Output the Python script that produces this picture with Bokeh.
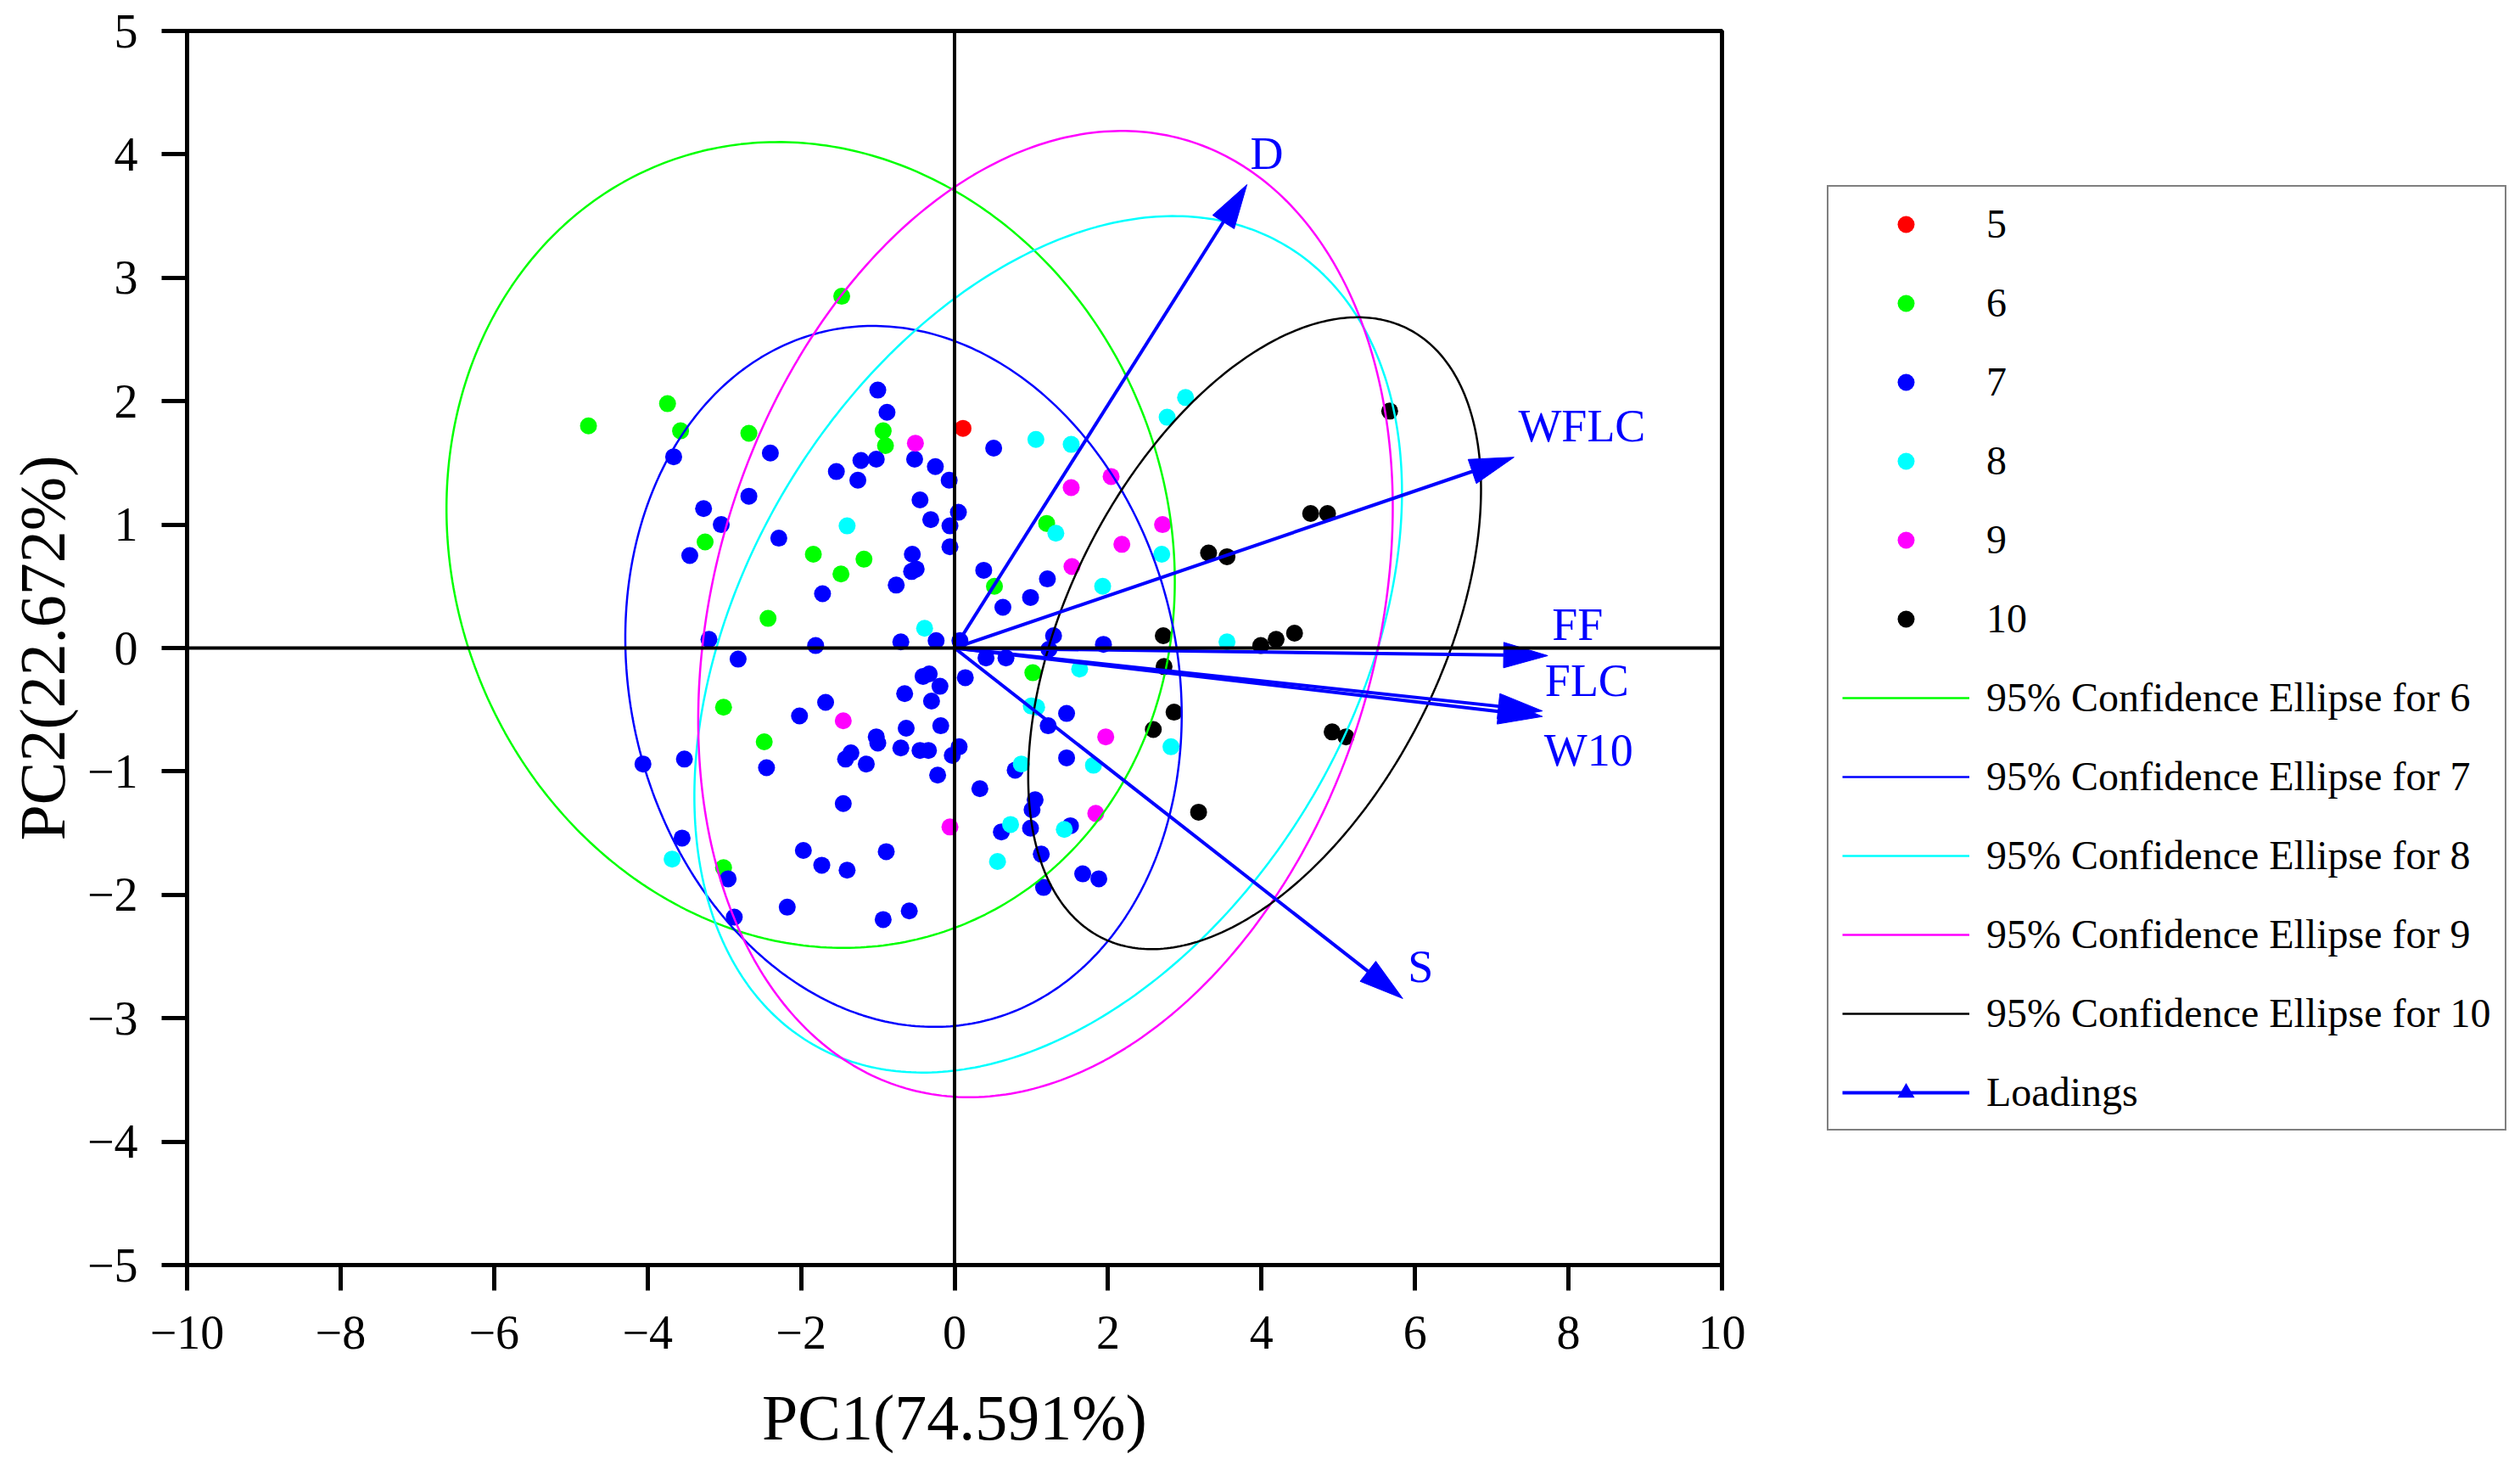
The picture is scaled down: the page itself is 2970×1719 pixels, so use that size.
import numpy as np
from bokeh.core.properties import value
from bokeh.embed import file_html
from bokeh.models import FixedTicker, Legend, LegendItem, Span
from bokeh.plotting import figure
from bokeh.resources import INLINE

FONT = "Liberation Serif"

# ---- PCA scores ----
groups = ["5", "6", "7", "8", "9", "10"]
group_colors = ["#FF0000", "#00FF00", "#0000FF", "#00FFFF", "#FF00FF", "#000000"]

pc1_g5 = [0.11]
pc2_g5 = [1.78]

pc1_g6 = [-4.77, -3.74, -3.57, -2.68, -3.25, -1.84, -1.48, -1.47, -2.43,
          -0.93, -0.90, -1.18, 0.52, 1.20, -3.01, -2.48, -3.01, 1.02]
pc2_g6 = [1.80, 1.98, 1.76, 1.74, 0.86, 0.76, 0.60, 2.85, 0.24,
          1.76, 1.64, 0.72, 0.50, 1.01, -0.48, -0.76, -1.78, -0.20]

pc1_g7 = [-3.66, -2.40, -1.54, -2.68, -3.27, -3.04, -3.45, -2.29, -1.72, -1.00,
          -0.88, -1.22, -1.02, -1.26, -0.52, -0.25, -0.07, -0.45, -0.31, 0.05,
          -0.06, -0.06, -0.55, -0.56, -0.50, -0.76, 0.38, 0.63, 0.99, 1.21,
          0.51, -3.20, -1.81, -2.82, -1.68, -2.02, -2.45, -4.06, -3.52, -1.45,
          -3.55, -2.95, -1.97, -1.73, -1.40, -2.18, -2.87, -0.70, -0.24, 0.07,
          1.29, 1.23, 1.94, 0.41, 0.67, 0.14, -0.41, -0.33, -0.19, -0.65,
          -0.30, 1.46, 1.22, -0.63, -0.18, -1.02, -1.00, -1.35, -1.42, -1.15,
          -0.70, -0.45, -0.34, 0.06, -0.03, -0.22, 0.33, 0.79, 1.46, 1.05,
          1.01, 0.99, 0.61, 1.51, -0.89, -0.59, -0.93, 1.13, 1.16, 1.67, 1.88]
pc2_g7 = [1.55, 1.58, 1.43, 1.23, 1.13, 1.00, 0.75, 0.89, 0.44, 2.09,
          1.91, 1.52, 1.53, 1.36, 1.53, 1.47, 1.36, 1.20, 1.04, 1.10,
          0.99, 0.82, 0.76, 0.62, 0.64, 0.51, 0.63, 0.33, 0.41, 0.56,
          1.62, 0.07, 0.02, -0.09, -0.44, -0.55, -0.97, -0.94, -0.90, -1.26,
          -1.54, -1.87, -1.64, -1.76, -1.80, -2.10, -2.18, 0.05, 0.06, 0.06,
          0.10, -0.01, 0.03, -0.08, -0.08, -0.24, -0.23, -0.21, -0.31, -0.37,
          -0.43, -0.53, -0.63, -0.65, -0.63, -0.72, -0.77, -0.85, -0.90, -0.94,
          -0.81, -0.83, -0.83, -0.80, -0.87, -1.03, -1.14, -0.99, -0.89, -1.23,
          -1.31, -1.46, -1.49, -1.44, -1.65, -2.13, -2.20, -1.67, -1.94, -1.83, -1.87]

pc1_g8 = [-1.40, 1.06, 1.52, 1.32, 1.93, 3.01, 2.77, 2.70, -0.39, 1.63,
          1.00, 1.07, 0.87, 1.81, 0.73, 1.43, 0.56, -3.68, 3.55, 2.82]
pc2_g8 = [0.99, 1.69, 1.65, 0.93, 0.50, 2.03, 1.87, 0.76, 0.16, -0.17,
          -0.47, -0.48, -0.94, -0.95, -1.43, -1.47, -1.73, -1.71, 0.05, -0.80]

pc1_g9 = [-0.51, 1.52, 2.04, 2.18, 1.53, 2.71, -1.45, 1.97, 1.84, -0.06]
pc2_g9 = [1.66, 1.30, 1.39, 0.84, 0.66, 1.00, -0.59, -0.72, -1.34, -1.45]

pc1_g10 = [5.67, 4.64, 4.86, 3.31, 3.55, 2.72, 2.73, 3.99, 4.19, 4.43,
           2.86, 2.59, 4.92, 5.10, 3.18]
pc2_g10 = [1.92, 1.09, 1.09, 0.77, 0.74, 0.10, -0.15, 0.02, 0.07, 0.12,
           -0.52, -0.66, -0.68, -0.72, -1.33]

scores = {
    "5": (pc1_g5, pc2_g5),
    "6": (pc1_g6, pc2_g6),
    "7": (pc1_g7, pc2_g7),
    "8": (pc1_g8, pc2_g8),
    "9": (pc1_g9, pc2_g9),
    "10": (pc1_g10, pc2_g10),
}

# 95% confidence ellipses: centre, half extents along PC1 / PC2, correlation
ellipse_groups = ["6", "7", "8", "9", "10"]
ellipse_cx = [-1.875, -0.665, 1.22, 1.185, 3.91]
ellipse_cy = [0.835, -0.23, 0.03, 0.275, 0.12]
ellipse_w = [4.745, 3.625, 4.61, 4.525, 2.95]
ellipse_h = [3.265, 2.84, 3.47, 3.915, 2.56]
ellipse_rho = [-0.09, -0.11, 0.355, 0.22, 0.455]

# loadings (arrow tips)
loading_names = ["D", "WFLC", "FF", "FLC", "W10", "S"]
loading_pc1 = [3.81, 7.29, 7.73, 7.66, 7.66, 5.84]
loading_pc2 = [3.755, 1.546, -0.062, -0.51, -0.555, -2.84]

x_ticks = [-10, -8, -6, -4, -2, 0, 2, 4, 6, 8, 10]
y_ticks = [-5, -4, -3, -2, -1, 0, 1, 2, 3, 4, 5]

# ---- figure ----
FRAME_W, FRAME_H = 1809, 1454
p = figure(
    frame_width=FRAME_W, frame_height=FRAME_H,
    x_range=(-10, 10), y_range=(-5, 5),
    output_backend="svg", toolbar_location=None,
    min_border_left=220, min_border_right=935,
    min_border_top=36, min_border_bottom=225,
)
p.xgrid.visible = False
p.ygrid.visible = False
p.outline_line_color = "black"
p.outline_line_width = 5
p.background_fill_color = "white"
p.border_fill_color = "white"

p.xaxis.ticker = FixedTicker(ticks=x_ticks)
p.yaxis.ticker = FixedTicker(ticks=y_ticks)
p.xaxis.major_label_overrides = {t: str(t).replace("-", "\u2212") for t in x_ticks}
p.yaxis.major_label_overrides = {t: str(t).replace("-", "\u2212") for t in y_ticks}
p.xaxis.axis_label = "PC1(74.591%)"
p.yaxis.axis_label = "PC2(22.672%)"
for ax in (p.xaxis[0], p.yaxis[0]):
    ax.axis_line_width = 5
    ax.major_tick_line_width = 5
    ax.major_tick_out = 30
    ax.major_tick_in = 0
    ax.minor_tick_line_color = None
    ax.major_label_text_font = FONT
    ax.major_label_text_font_size = "56px"
    ax.major_label_text_color = "black"
    ax.axis_label_text_font = FONT
    ax.axis_label_text_font_size = "76px"
    ax.axis_label_text_font_style = "normal"
    ax.axis_label_text_color = "black"
p.xaxis.major_label_standoff = 30
p.xaxis.axis_label_standoff = 36
p.yaxis.major_label_standoff = 28
p.yaxis.axis_label_standoff = 8

# score points
point_r = {}
for g, c in zip(groups, group_colors):
    xs, ys = scores[g]
    point_r[g] = p.scatter(xs, ys, size=20, fill_color=c, line_color=None)

# confidence ellipses
color_of = dict(zip(groups, group_colors))
t = np.linspace(0, 2 * np.pi, 400)
ellipse_r = {}
for g, cx, cy, w, h, rho in zip(ellipse_groups, ellipse_cx, ellipse_cy,
                                ellipse_w, ellipse_h, ellipse_rho):
    ex = cx + w * np.cos(t)
    ey = cy + h * (rho * np.cos(t) + np.sqrt(1 - rho ** 2) * np.sin(t))
    ellipse_r[g] = p.line(ex, ey, line_color=color_of[g], line_width=2.5)

p.add_layout(Span(location=0, dimension="height", line_color="black", line_width=4))
p.add_layout(Span(location=0, dimension="width", line_color="black", line_width=4))

# loading arrows: head built in screen pixels, so it keeps its shape
px_x = FRAME_W / 20.0
px_y = FRAME_H / 10.0
head_len, head_w = 52.0, 30.0
lx = np.array(loading_pc1) * px_x
ly = np.array(loading_pc2) * px_y
L = np.hypot(lx, ly)
ux, uy = lx / L, ly / L
bx, by = lx - head_len * ux, ly - head_len * uy
head_xs = [[a / px_x, (b - head_w / 2 * vy) / px_x, (b + head_w / 2 * vy) / px_x]
           for a, b, vy in zip(lx, bx, uy)]
head_ys = [[a / px_y, (b + head_w / 2 * vx) / px_y, (b - head_w / 2 * vx) / px_y]
           for a, b, vx in zip(ly, by, ux)]

n = len(loading_names)
arrow_line = p.segment([0] * n, [0] * n, list(bx / px_x), list(by / px_y),
                       line_color="#0000FF", line_width=4)
# small marker hidden under each head, used for the legend entry
cx_head = (lx - head_len * 0.6 * ux) / px_x
cy_head = (ly - head_len * 0.6 * uy) / px_y
arrow_mark = p.scatter(list(cx_head), list(cy_head), marker="triangle", size=14,
                       angle=list(np.arctan2(uy, ux) - np.pi / 2),
                       fill_color="#0000FF", line_color=None)
p.patches(head_xs, head_ys, fill_color="#0000FF", line_color="#0000FF", line_width=1)

label_dx = [4, 5, 5, 3, 2, 6]
label_dy = [-37, -37, -37, -36, 40, -37]
p.text(x=loading_pc1, y=loading_pc2, text=loading_names,
       x_offset=label_dx, y_offset=label_dy,
       text_font=value(FONT), text_font_size="54px", text_color="#0000FF",
       text_baseline="alphabetic", text_align="left")

items = [LegendItem(label=g, renderers=[point_r[g]]) for g in groups]
items += [LegendItem(label=f"95% Confidence Ellipse for {g}", renderers=[ellipse_r[g]])
          for g in ellipse_groups]
items.append(LegendItem(label="Loadings", renderers=[arrow_line, arrow_mark], index=2))

legend = Legend(
    items=items, location=(124, 158), orientation="vertical",
    glyph_width=150, glyph_height=50, label_height=50, spacing=38,
    padding=16, margin=0, label_standoff=20,
    label_text_font=FONT, label_text_font_size="48px", label_text_color="black",
    border_line_color="black", border_line_width=2,
    background_fill_color="white", background_fill_alpha=1.0,
)
p.add_layout(legend, "right")

open("out.html", "w").write(file_html(p, INLINE))
